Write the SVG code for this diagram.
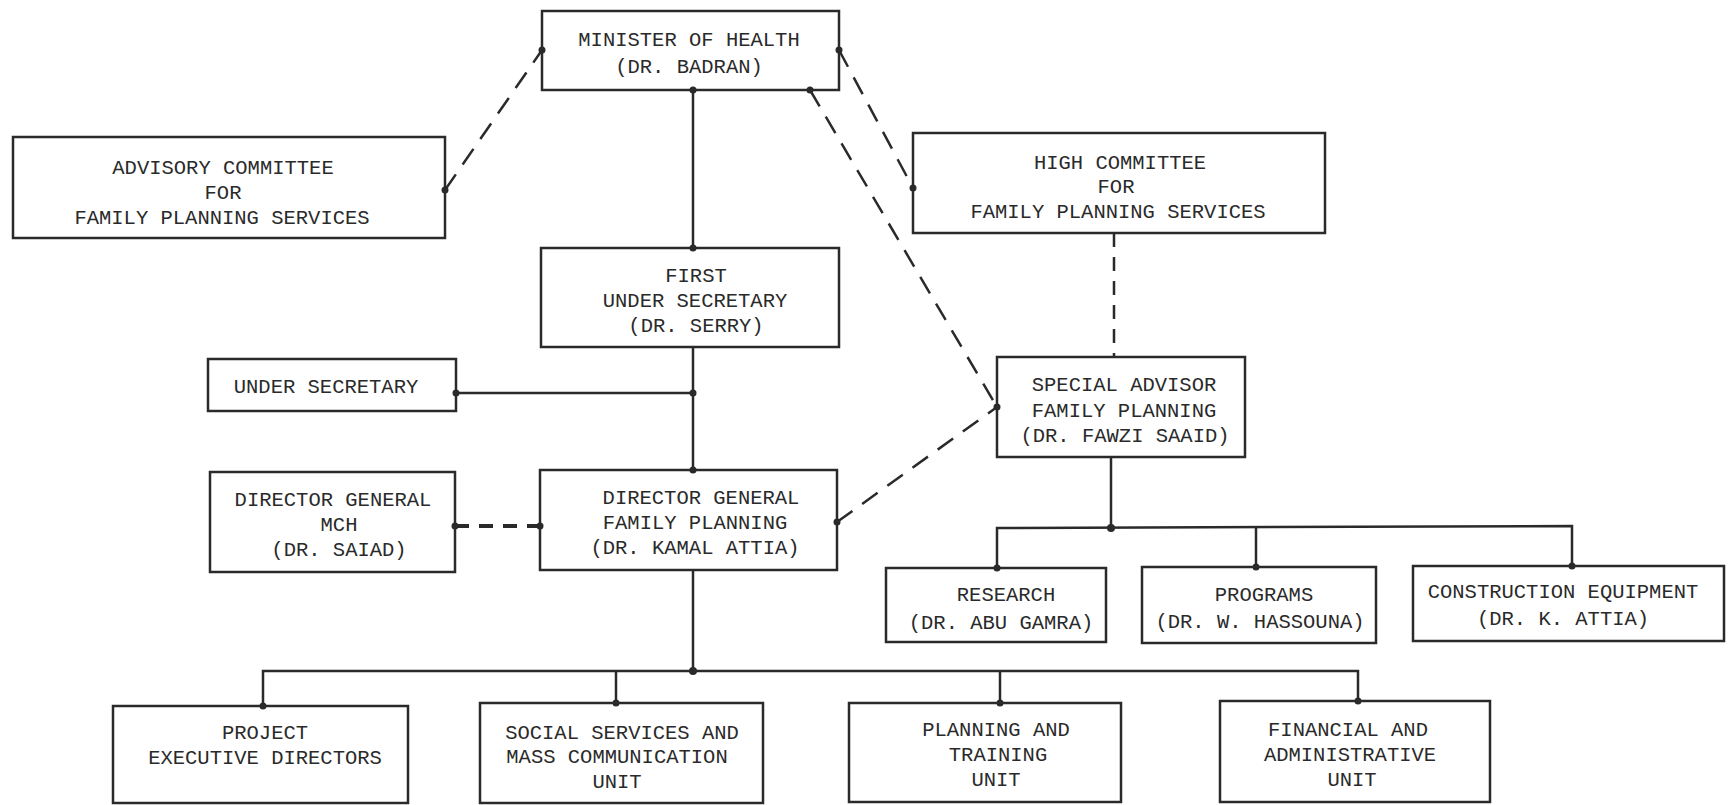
<svg xmlns="http://www.w3.org/2000/svg" width="1729" height="805" viewBox="0 0 1729 805">
<style>
.box{fill:none;stroke:#2a2a2a;stroke-width:2.5}
.t{font-family:"Liberation Mono",monospace;font-size:20.5px;fill:#2a2a2a;text-anchor:middle;dominant-baseline:central}
.ln{fill:none;stroke:#2a2a2a;stroke-width:2.5}
.dash{fill:none;stroke:#2a2a2a;stroke-width:2.5;stroke-dasharray:19 12}
.dash2{fill:none;stroke:#2a2a2a;stroke-width:4;stroke-dasharray:14 10}
.dot{fill:#2a2a2a}
</style>
<rect width="1729" height="805" fill="#ffffff"/>
<g id="connectors">
<line class="ln" x1="693" y1="90" x2="693" y2="248"/>
<line class="ln" x1="693" y1="347" x2="693" y2="470"/>
<line class="ln" x1="456" y1="393" x2="693" y2="393"/>
<line class="ln" x1="693" y1="570" x2="693" y2="671"/>
<polyline class="ln" points="263,706 263,671 1358,671 1358,701"/>
<line class="ln" x1="616" y1="671" x2="616" y2="703"/>
<line class="ln" x1="1000" y1="671" x2="1000" y2="703"/>
<line class="ln" x1="1111" y1="457" x2="1111" y2="528"/>
<polyline class="ln" points="997,568 997,528 1572,526 1572,566"/>
<line class="ln" x1="1256" y1="527" x2="1256" y2="567"/>
<line class="dash" x1="445" y1="190" x2="542" y2="50"/>
<line class="dash" x1="839" y1="50" x2="913" y2="188"/>
<line class="dash" x1="810" y1="90" x2="997" y2="407"/>
<line class="dash" x1="837" y1="522" x2="997" y2="407"/>
<line class="dash" x1="1114" y1="233" x2="1114" y2="357" style="stroke-dasharray:14 10"/>
<line class="dash2" x1="455" y1="526" x2="540" y2="526"/>
<circle class="dot" cx="693" cy="90" r="3.5"/>
<circle class="dot" cx="693" cy="248" r="3.5"/>
<circle class="dot" cx="693" cy="393" r="3.5"/>
<circle class="dot" cx="456" cy="393" r="3.5"/>
<circle class="dot" cx="693" cy="470" r="3.5"/>
<circle class="dot" cx="693" cy="671" r="4"/>
<circle class="dot" cx="263" cy="706" r="3.5"/>
<circle class="dot" cx="616" cy="703" r="3.5"/>
<circle class="dot" cx="1000" cy="703" r="3.5"/>
<circle class="dot" cx="1358" cy="701" r="3.5"/>
<circle class="dot" cx="1111" cy="528" r="4"/>
<circle class="dot" cx="997" cy="568" r="3.5"/>
<circle class="dot" cx="1256" cy="567" r="3.5"/>
<circle class="dot" cx="1572" cy="566" r="3.5"/>
<circle class="dot" cx="445" cy="190" r="3.5"/>
<circle class="dot" cx="542" cy="50" r="3.5"/>
<circle class="dot" cx="839" cy="50" r="3.5"/>
<circle class="dot" cx="913" cy="188" r="3.5"/>
<circle class="dot" cx="810" cy="90" r="3.5"/>
<circle class="dot" cx="997" cy="407" r="3.5"/>
<circle class="dot" cx="837" cy="522" r="3.5"/>
<circle class="dot" cx="455" cy="526" r="3.5"/>
<circle class="dot" cx="540" cy="526" r="3.5"/>
</g>
<g id="minister">
<rect class="box" x="542" y="11" width="297" height="79"/>
<text class="t" x="689" y="40">MINISTER OF HEALTH</text>
<text class="t" x="689" y="67">(DR. BADRAN)</text>
</g>
<g id="advisory">
<rect class="box" x="13" y="137" width="432" height="101"/>
<text class="t" x="223" y="168">ADVISORY COMMITTEE</text>
<text class="t" x="223" y="193">FOR</text>
<text class="t" x="222" y="218">FAMILY PLANNING SERVICES</text>
</g>
<g id="high-committee">
<rect class="box" x="913" y="133" width="412" height="100"/>
<text class="t" x="1120" y="163">HIGH COMMITTEE</text>
<text class="t" x="1116" y="187">FOR</text>
<text class="t" x="1118" y="212">FAMILY PLANNING SERVICES</text>
</g>
<g id="first-under-secretary">
<rect class="box" x="541" y="248" width="298" height="99"/>
<text class="t" x="696" y="276">FIRST</text>
<text class="t" x="695" y="301">UNDER SECRETARY</text>
<text class="t" x="696" y="326">(DR. SERRY)</text>
</g>
<g id="under-secretary">
<rect class="box" x="208" y="359" width="248" height="52"/>
<text class="t" x="326" y="387">UNDER SECRETARY</text>
</g>
<g id="dg-mch">
<rect class="box" x="210" y="472" width="245" height="100"/>
<text class="t" x="333" y="500">DIRECTOR GENERAL</text>
<text class="t" x="339" y="525">MCH</text>
<text class="t" x="339" y="550">(DR. SAIAD)</text>
</g>
<g id="dg-fp">
<rect class="box" x="540" y="470" width="297" height="100"/>
<text class="t" x="701" y="498">DIRECTOR GENERAL</text>
<text class="t" x="695" y="523">FAMILY PLANNING</text>
<text class="t" x="695" y="548">(DR. KAMAL ATTIA)</text>
</g>
<g id="special-advisor">
<rect class="box" x="997" y="357" width="248" height="100"/>
<text class="t" x="1124" y="385">SPECIAL ADVISOR</text>
<text class="t" x="1124" y="411">FAMILY PLANNING</text>
<text class="t" x="1125" y="436">(DR. FAWZI SAAID)</text>
</g>
<g id="research">
<rect class="box" x="886" y="568" width="220" height="74"/>
<text class="t" x="1006" y="595">RESEARCH</text>
<text class="t" x="1001" y="623">(DR. ABU GAMRA)</text>
</g>
<g id="programs">
<rect class="box" x="1142" y="567" width="234" height="76"/>
<text class="t" x="1264" y="595">PROGRAMS</text>
<text class="t" x="1260" y="622">(DR. W. HASSOUNA)</text>
</g>
<g id="construction">
<rect class="box" x="1413" y="566" width="311" height="75"/>
<text class="t" x="1563" y="592">CONSTRUCTION EQUIPMENT</text>
<text class="t" x="1563" y="619">(DR. K. ATTIA)</text>
</g>
<g id="project">
<rect class="box" x="113" y="706" width="295" height="97"/>
<text class="t" x="265" y="733">PROJECT</text>
<text class="t" x="265" y="758">EXECUTIVE DIRECTORS</text>
</g>
<g id="social">
<rect class="box" x="480" y="703" width="283" height="100"/>
<text class="t" x="622" y="733">SOCIAL SERVICES AND</text>
<text class="t" x="617" y="757">MASS COMMUNICATION</text>
<text class="t" x="617" y="782">UNIT</text>
</g>
<g id="planning">
<rect class="box" x="849" y="703" width="272" height="99"/>
<text class="t" x="996" y="730">PLANNING AND</text>
<text class="t" x="998" y="755">TRAINING</text>
<text class="t" x="996" y="780">UNIT</text>
</g>
<g id="financial">
<rect class="box" x="1220" y="701" width="270" height="101"/>
<text class="t" x="1348" y="730">FINANCIAL AND</text>
<text class="t" x="1350" y="755">ADMINISTRATIVE</text>
<text class="t" x="1352" y="780">UNIT</text>
</g>
</svg>
